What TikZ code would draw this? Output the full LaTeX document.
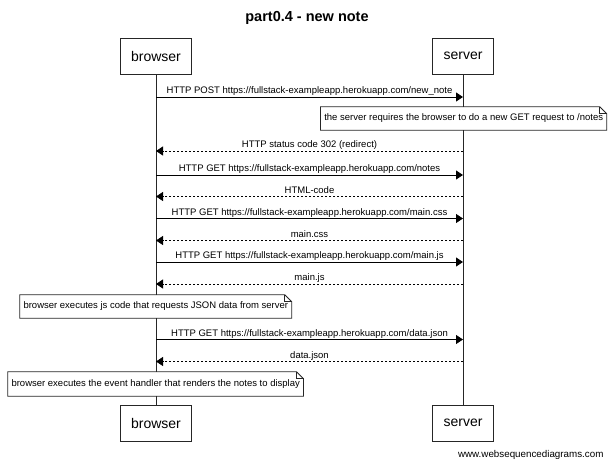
\documentclass[tikz,border=0pt]{standalone}
\usepackage{fontspec}
\setmainfont{Liberation Sans}
\usetikzlibrary{arrows.meta}

\begin{document}
\begin{tikzpicture}[x=1pt, y=-1pt,
  actor/.style={draw=black!85, line width=0.9pt, fill=white, inner xsep=11pt, minimum height=36pt, font=\fontsize{14}{16}\selectfont},
  lifeline/.style={draw=black!85, line width=0.9pt},
  notebox/.style={fill=white, inner xsep=3.5pt, minimum height=23pt, font=\fontsize{9.5}{11}\selectfont},
  noteline/.style={draw=black!85, line width=0.8pt},
  msg/.style={draw=black, line width=0.8pt, -{Triangle[length=7pt, width=9pt]}},
  reply/.style={msg, dash pattern=on 2.5pt off 1.5pt},
  msglabel/.style={midway, above, inner sep=1pt, text height=7pt, text depth=2pt, font=\fontsize{9.5}{11}\selectfont}]
\useasboundingbox (0,0) rectangle (614,465);
\node[font=\bfseries\fontsize{14.5}{17}\selectfont] (TITLE) at (307,18) {part0.4 - new note};
\node[actor] (BT) at (156,56) {browser};
\node[actor] (ST) at (463,56) {server};
\node[actor] (BB) at (156,423) {browser};
\node[actor] (SB) at (463,423) {server};
\draw[lifeline] (BT) -- (BB);
\draw[lifeline] (ST) -- (SB);
\coordinate (B1) at (156,97);    \coordinate (S1) at (463,97);
\coordinate (B2) at (156,151);   \coordinate (S2) at (463,151);
\coordinate (B3) at (156,175);   \coordinate (S3) at (463,175);
\coordinate (B4) at (156,196.5); \coordinate (S4) at (463,196.5);
\coordinate (B5) at (156,218.5); \coordinate (S5) at (463,218.5);
\coordinate (B6) at (156,240.5); \coordinate (S6) at (463,240.5);
\coordinate (B7) at (156,262);   \coordinate (S7) at (463,262);
\coordinate (B8) at (156,284);   \coordinate (S8) at (463,284);
\coordinate (B9) at (156,339.5); \coordinate (S9) at (463,339.5);
\coordinate (B10) at (156,361.5); \coordinate (S10) at (463,361.5);
\draw[msg] (B1) -- (S1) node[msglabel] {HTTP POST https://fullstack-exampleapp.herokuapp.com/new\_note};
\node[notebox] (N1) at (463.7,118.5) {the server requires the browser to do a new GET request to /notes};
\draw[reply] (S2) -- (B2) node[msglabel] {HTTP status code 302 (redirect)};
\draw[msg] (B3) -- (S3) node[msglabel] {HTTP GET https://fullstack-exampleapp.herokuapp.com/notes};
\draw[reply] (S4) -- (B4) node[msglabel] {HTML-code};
\draw[msg] (B5) -- (S5) node[msglabel] {HTTP GET https://fullstack-exampleapp.herokuapp.com/main.css};
\draw[reply] (S6) -- (B6) node[msglabel] {main.css};
\draw[msg] (B7) -- (S7) node[msglabel] {HTTP GET https://fullstack-exampleapp.herokuapp.com/main.js};
\draw[reply] (S8) -- (B8) node[msglabel] {main.js};
\node[notebox] (N2) at (155.8,306.5) {browser executes js code that requests JSON data from server};
\draw[msg] (B9) -- (S9) node[msglabel] {HTTP GET https://fullstack-exampleapp.herokuapp.com/data.json};
\draw[reply] (S10) -- (B10) node[msglabel] {data.json};
\node[notebox, minimum height=24pt] (N3) at (155.7,384) {browser executes the event handler that renders the notes to display};
\foreach \n in {N1,N2,N3} {
  \draw[noteline] (\n.south west) -- (\n.north west) -- ([xshift=-7pt]\n.north east) -- ([yshift=-7pt]\n.north east) -- (\n.south east) -- cycle;
  \draw[noteline] ([xshift=-7pt]\n.north east) |- ([yshift=-7pt]\n.north east);
}
\node[anchor=east, font=\fontsize{9.8}{12}\selectfont] (WSD) at (607,455) {www.websequencediagrams.com};
\end{tikzpicture}
\end{document}
